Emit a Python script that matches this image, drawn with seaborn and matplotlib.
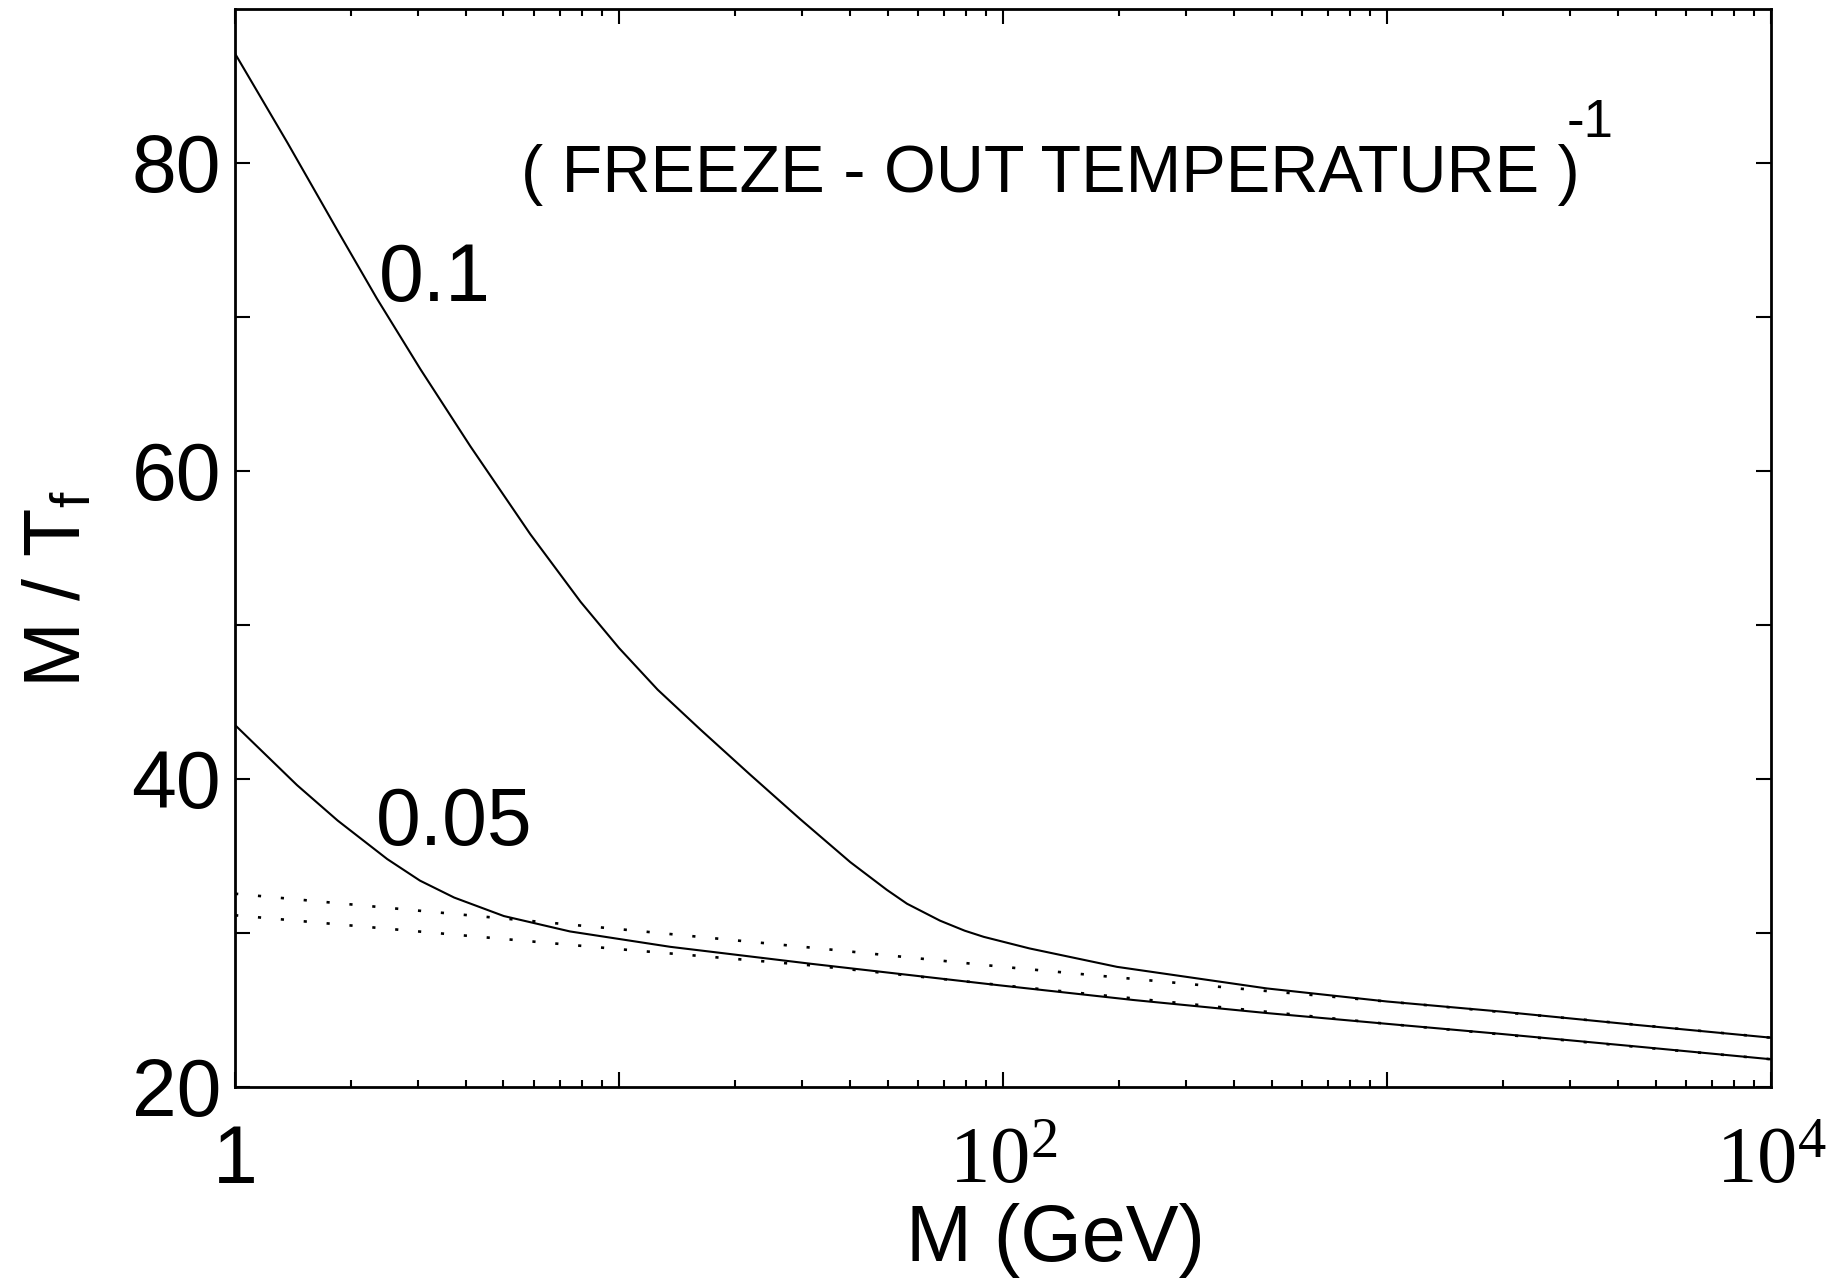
import seaborn as sns
import matplotlib.pyplot as plt
from matplotlib.ticker import FixedLocator, FixedFormatter, LogLocator, NullFormatter

# M (GeV) and M/T_f
m_01 = [1, 1.37, 1.85, 2.34, 3.04, 4.1, 5.87, 7.94, 10, 12.6, 16.3, 21.9, 29.6, 40,
        49.8, 56.2, 68.5, 79.4, 89, 117, 198, 486, 1000, 1970, 4370, 10000]
x_01 = [87.1, 81.3, 75.6, 71.2, 66.6, 61.6, 55.9, 51.5, 48.5, 45.8, 43.2, 40.3, 37.4, 34.6,
        32.8, 31.9, 30.8, 30.15, 29.75, 29.0, 27.8, 26.4, 25.55, 24.9, 24.05, 23.2]

m_005 = [1, 1.45, 1.85, 2.49, 3.03, 3.72, 5.01, 7.45, 13.6, 31.6, 98, 218, 486, 1000,
         1970, 4370, 10000]
x_005 = [43.5, 39.6, 37.3, 34.8, 33.4, 32.3, 31.1, 30.1, 29.1, 28.0, 26.6, 25.65, 24.8,
         24.1, 23.45, 22.65, 21.8]

# approximate (dotted) curves
m_dot_hi = [1, 3.16, 10, 31.6, 100, 398, 1000, 3160, 10000]
x_dot_hi = [32.55, 31.4, 30.25, 29.05, 27.8, 26.42, 25.55, 24.4, 23.2]
m_dot_lo = [1, 3.16, 10, 31.6, 100, 1000, 10000]
x_dot_lo = [31.15, 30.05, 28.95, 27.9, 26.6, 24.1, 21.8]

sns.set_style("ticks")
plt.rcParams["font.family"] = ["Liberation Sans", "DejaVu Sans"]
plt.rcParams["mathtext.fontset"] = "custom"
plt.rcParams["mathtext.rm"] = "Liberation Serif"
plt.rcParams["mathtext.it"] = "Liberation Serif:italic"
plt.rcParams["text.color"] = "black"
plt.rcParams["axes.labelcolor"] = "black"
plt.rcParams["xtick.color"] = "black"
plt.rcParams["ytick.color"] = "black"

fig = plt.figure(figsize=(18.28, 12.85), dpi=100)
ax = fig.add_axes([0.1286, 0.1541, 0.8403, 0.8389])

dots = (0, (1.2, 7.5))
sns.lineplot(x=m_dot_hi, y=x_dot_hi, color="black", lw=1.9, linestyle=dots, ax=ax)
sns.lineplot(x=m_dot_lo, y=x_dot_lo, color="black", lw=1.9, linestyle=dots, ax=ax)
sns.lineplot(x=m_01, y=x_01, color="black", lw=1.5, ax=ax)
sns.lineplot(x=m_005, y=x_005, color="black", lw=1.5, ax=ax)

ax.set_xscale("log")
ax.set_xlim(1, 1e4)
ax.set_ylim(20, 90)

ax.xaxis.set_major_locator(FixedLocator([1, 10, 100, 1000, 10000]))
ax.xaxis.set_major_formatter(FixedFormatter(["1", "", "$10^2$", "", "$10^4$"]))
ax.xaxis.set_minor_locator(LogLocator(base=10, subs=range(2, 10)))
ax.xaxis.set_minor_formatter(NullFormatter())
ax.set_yticks([20, 30, 40, 50, 60, 70, 80])
ax.set_yticklabels(["20", "", "40", "", "60", "", "80"])

ax.tick_params(which="both", direction="in", top=True, right=True, width=1.5, color="black")
ax.tick_params(which="major", length=11)
ax.tick_params(which="minor", length=5)
ax.tick_params(axis="x", which="major", labelsize=58, pad=27)
ax.tick_params(axis="y", labelsize=58, pad=10)
for s in ax.spines.values():
    s.set_linewidth(2)
    s.set_color("black")

ax.set_xlabel("M (GeV)", fontsize=57)
ax.xaxis.set_label_coords(0.534, -0.108)
ax.set_ylabel(r"M / T$_\mathregular{f}$", fontsize=57)
ax.yaxis.set_label_coords(-0.09, 0.462)

ax.text(2.37, 71.06, "0.1", fontsize=58, ha="left", va="baseline")
ax.text(2.32, 35.7, "0.05", fontsize=58, ha="left", va="baseline")
ax.text(0.186, 0.830, "( FREEZE - OUT TEMPERATURE )", fontsize=48,
        ha="left", va="baseline", transform=ax.transAxes)
ax.text(0.867, 0.881, "-1", fontsize=38, ha="left", va="baseline", transform=ax.transAxes)

plt.savefig("out.png", dpi=100)
